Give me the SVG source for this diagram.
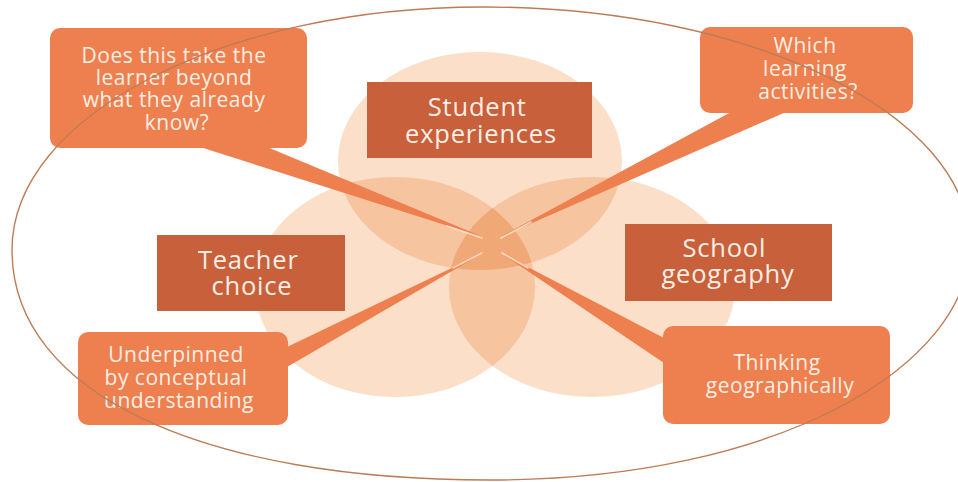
<svg xmlns="http://www.w3.org/2000/svg" width="958" height="482" viewBox="0 0 958 482">
  <defs>
    <style>
      .circle { fill: #fbdfc8; }
      .lens { fill: #f6c5a0; }
      .core { fill: #f1a877; }
      .callout { fill: #ee7f4f; }
      .topic { fill: #c8603b; }
      .tail { fill: #ee7f4f; }
      .glint { stroke: #fce6d3; stroke-width: 1.6; stroke-linecap: round; opacity: 0.8; }
      .label { font-family: "Open Sans", "Noto Sans", "Liberation Sans", sans-serif; fill: #fdeee3; text-anchor: middle; }
      .topic-t { font-size: 25.5px; letter-spacing: 0.8px; }
      .callout-t { font-size: 21px; letter-spacing: 0.5px; }
      .frame { fill: none; stroke: #bd7c56; stroke-width: 1.4; }
    </style>
    <clipPath id="clip-top"><ellipse cx="480" cy="161" rx="142" ry="109"/></clipPath>
    <clipPath id="clip-left"><ellipse cx="395" cy="287" rx="140" ry="110"/></clipPath>
  </defs>

  <rect x="0" y="0" width="958" height="482" fill="#ffffff"/>

  <!-- three overlapping circles -->
  <g id="venn">
    <ellipse class="circle" cx="480" cy="161" rx="142" ry="109"/>
    <ellipse class="circle" cx="395" cy="287" rx="140" ry="110"/>
    <ellipse class="circle" cx="592" cy="287" rx="143" ry="110"/>
    <ellipse class="lens" cx="395" cy="287" rx="140" ry="110" clip-path="url(#clip-top)"/>
    <ellipse class="lens" cx="592" cy="287" rx="143" ry="110" clip-path="url(#clip-top)"/>
    <ellipse class="lens" cx="592" cy="287" rx="143" ry="110" clip-path="url(#clip-left)"/>
    <g clip-path="url(#clip-left)">
      <ellipse class="core" cx="592" cy="287" rx="143" ry="110" clip-path="url(#clip-top)"/>
    </g>
  </g>

  <!-- callout pointers into the shared centre -->
  <g id="connectors">
    <polygon class="tail" points="200,147 267,147 483,237"/>
    <polygon class="tail" points="731,112 786,112 500,237"/>
    <polygon class="tail" points="287,347 287,367 483,253"/>
    <polygon class="tail" points="664,338 664,363 501,253"/>
    <line class="glint" x1="447" y1="226" x2="482" y2="238"/>
    <line class="glint" x1="531" y1="222" x2="501" y2="238"/>
    <line class="glint" x1="453" y1="268" x2="482" y2="253"/>
    <line class="glint" x1="528" y1="268" x2="502" y2="253"/>
  </g>

  <g id="callout-beyond">
    <rect class="callout" x="50" y="28" width="257" height="120" rx="10"/>
    <text class="label callout-t">
      <tspan x="177" y="63">Does this take the</tspan>
      <tspan x="177" y="85">learner beyond</tspan>
      <tspan x="177" y="107">what they already</tspan>
      <tspan x="177" y="130">know?</tspan>
    </text>
  </g>

  <g id="callout-activities">
    <rect class="callout" x="700" y="27" width="213" height="86" rx="10"/>
    <text class="label callout-t">
      <tspan x="808" y="53">Which</tspan>
      <tspan x="808" y="76">learning</tspan>
      <tspan x="808" y="99">activities?</tspan>
    </text>
  </g>

  <g id="callout-conceptual">
    <rect class="callout" x="78" y="332" width="210" height="93" rx="10"/>
    <text class="label callout-t">
      <tspan x="179" y="362">Underpinned</tspan>
      <tspan x="179" y="385">by conceptual</tspan>
      <tspan x="179" y="408">understanding</tspan>
    </text>
  </g>

  <g id="callout-thinking">
    <rect class="callout" x="663" y="326" width="227" height="98" rx="10"/>
    <text class="label callout-t">
      <tspan x="780" y="370">Thinking</tspan>
      <tspan x="780" y="393">geographically</tspan>
    </text>
  </g>

  <g id="topic-student">
    <rect class="topic" x="367" y="82" width="225" height="76"/>
    <text class="label topic-t">
      <tspan x="481" y="116">Student</tspan>
      <tspan x="481" y="143">experiences</tspan>
    </text>
  </g>

  <g id="topic-teacher">
    <rect class="topic" x="157" y="235" width="188" height="76"/>
    <text class="label topic-t">
      <tspan x="252" y="269">Teacher</tspan>
      <tspan x="252" y="295">choice</tspan>
    </text>
  </g>

  <g id="topic-school">
    <rect class="topic" x="625" y="224" width="207" height="77"/>
    <text class="label topic-t">
      <tspan x="728" y="257">School</tspan>
      <tspan x="728" y="283">geography</tspan>
    </text>
  </g>

  <!-- outer boundary loop, drawn over the boxes -->
  <path class="frame" d="M 12,250 C 12,116 223,7 483,7 C 752,7 970,114 970,245 C 970,365 780,480 490,480 C 205,480 12,395 12,250 Z"/>
</svg>
